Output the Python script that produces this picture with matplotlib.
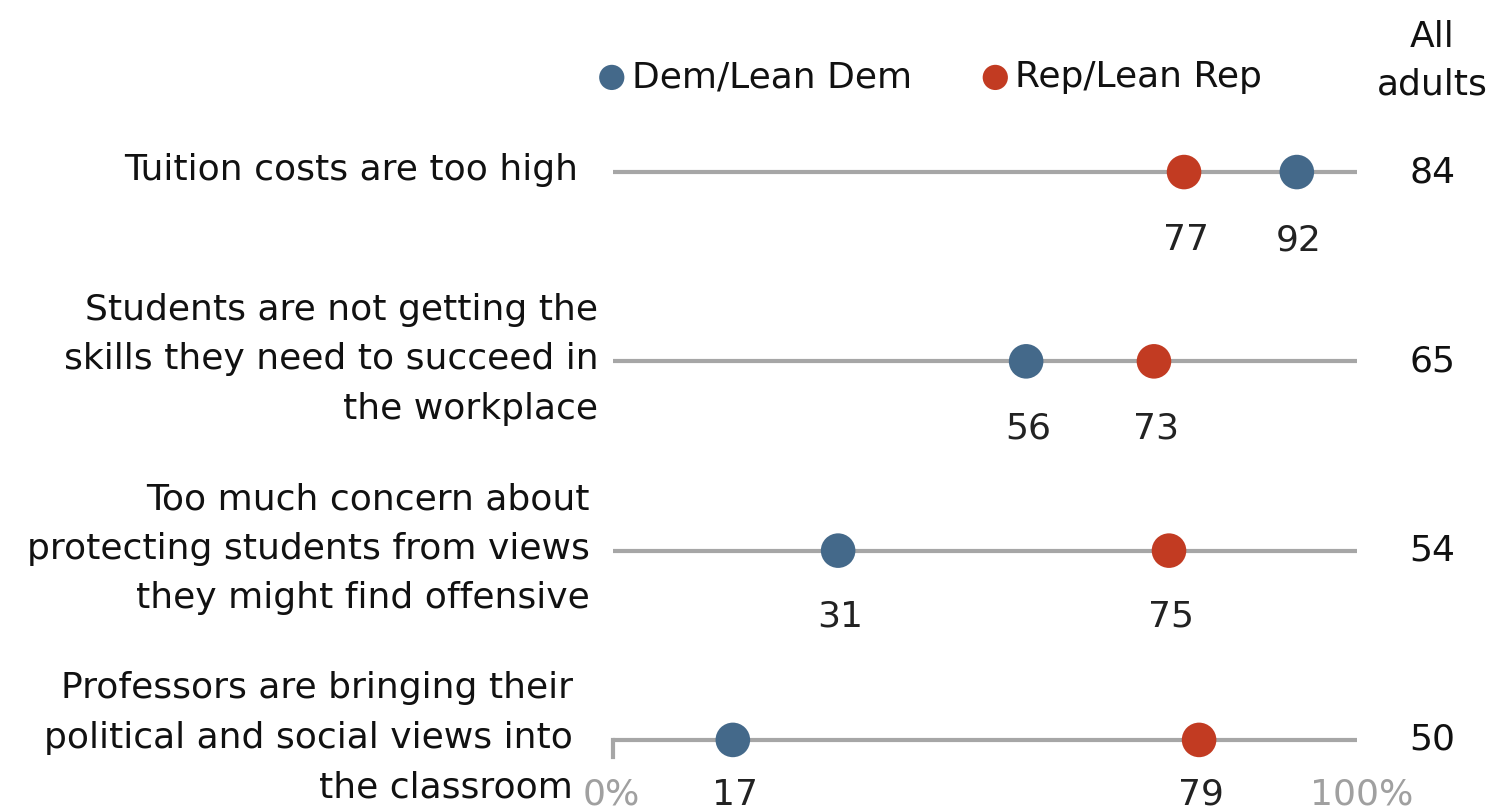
import matplotlib
matplotlib.use("Agg")
import matplotlib.pyplot as plt

# datos
categorias = [
    "Tuition costs are too high",
    "Students are not getting the\nskills they need to succeed in\nthe workplace",
    "Too much concern about\nprotecting students from views\nthey might find offensive",
    "Professors are bringing their\npolitical and social views into\nthe classroom",
]
dem = [92, 56, 31, 17]
rep = [77, 73, 75, 79]
todos = [84, 65, 54, 50]
tick_labels = ["0%", "100%"]

azul = "#44698A"
rojo = "#C23B22"
gris = "#A6A6A6"

plt.rcParams["font.family"] = ["DejaVu Sans"]

fig = plt.figure(figsize=(14.95, 8.09), dpi=100)
ax = fig.add_axes([605 / 1495, 0, 752 / 1495, 1])
ax.set_xlim(0, 100)
ax.set_ylim(3.365, -0.909)
ax.axis("off")

fs = 26
# borde derecho de cada etiqueta (en unidades del eje x)
borde = [-3.6, -0.9, -2.0, -4.3]
# desplazamiento vertical de los numeros bajo los puntos
bajo = [0.36, 0.355, 0.35, 0.29]

for i in range(len(categorias)):
    ax.plot([1, 100.8], [i, i], color=gris, lw=3, zorder=1, solid_capstyle="butt")
    ax.scatter([dem[i]], [i], s=620, color=azul, zorder=3, edgecolors="none")
    ax.scatter([rep[i]], [i], s=620, color=rojo, zorder=3, edgecolors="none")
    ax.text(dem[i] + 0.3, i + bajo[i], str(dem[i]), ha="center", va="center", fontsize=fs, color="#222222")
    ax.text(rep[i] + 0.3, i + bajo[i], str(rep[i]), ha="center", va="center", fontsize=fs, color="#222222")
    ax.text(110, i, str(todos[i]), ha="center", va="center", fontsize=fs, color="#111111")
    ax.text(borde[i], i - 0.01, categorias[i], ha="right", va="center", fontsize=fs,
            color="#111111", linespacing=1.58, clip_on=False)

# marcas del eje en la ultima fila
ax.plot([1, 1], [3, 3.09], color=gris, lw=3)
ax.plot([100.8, 100.8], [3, 3.09], color=gris, lw=3)
ax.text(0.9, 3.29, tick_labels[0], ha="center", va="center", fontsize=fs, color="#A0A0A0")
ax.text(100.6, 3.29, tick_labels[1], ha="center", va="center", fontsize=fs, color="#A0A0A0")

# leyenda
ax.scatter([0.9], [-0.5], s=330, color=azul, edgecolors="none", clip_on=False)
ax.text(3.6, -0.5, "Dem/Lean Dem", ha="left", va="center", fontsize=fs, color="#111111")
ax.scatter([51.9], [-0.5], s=330, color=rojo, edgecolors="none", clip_on=False)
ax.text(54.5, -0.5, "Rep/Lean Rep", ha="left", va="center", fontsize=fs, color="#111111")

ax.text(110, -0.59, "All\nadults", ha="center", va="center", fontsize=fs,
        color="#111111", linespacing=1.5)

fig.savefig("out.png", dpi=100)
